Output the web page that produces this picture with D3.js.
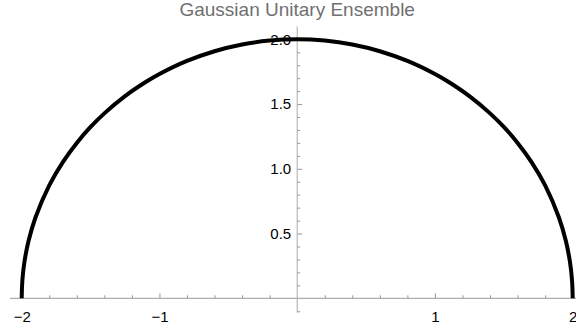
<!DOCTYPE html>
<meta charset="utf-8">
<style>
body { margin: 0; background: #fff; }
svg { display: block; font-family: "Liberation Sans", Arial, sans-serif; }
.axis text { font-size: 15px; fill: #000; }
.axis line { stroke: #999; }
.axis path { display: none; }
.curve { fill: none; stroke: #000; stroke-width: 4px; }
</style>
<svg width="576" height="326"></svg>
<script src="https://cdn.jsdelivr.net/npm/d3@7"></script>
<script>

// semicircle density
var xs = [-2, -1.995, -1.98, -1.95, -1.9, -1.8, -1.7, -1.6, -1.5, -1.4, -1.25, -1.1, -1, -0.8, -0.6, -0.4, -0.2, 0,
          0.2, 0.4, 0.6, 0.8, 1, 1.1, 1.25, 1.4, 1.5, 1.6, 1.7, 1.8, 1.9, 1.95, 1.98, 1.995, 2]
var ys = [0, 0.141, 0.282, 0.444, 0.624, 0.872, 1.054, 1.2, 1.323, 1.428, 1.561, 1.67, 1.732, 1.833, 1.908, 1.96, 1.99, 2,
          1.99, 1.96, 1.908, 1.833, 1.732, 1.67, 1.561, 1.428, 1.323, 1.2, 1.054, 0.872, 0.624, 0.444, 0.282, 0.141, 0]

var xMajor = [-2, -1, 1, 2]
var xMinor = [-1.8, -1.6, -1.4, -1.2, -0.8, -0.6, -0.4, -0.2, 0.2, 0.4, 0.6, 0.8, 1.2, 1.4, 1.6, 1.8]
var yMajor = [0.5, 1, 1.5, 2]
var yMinor = [-0.1, 0.1, 0.2, 0.3, 0.4, 0.6, 0.7, 0.8, 0.9, 1.1, 1.2, 1.3, 1.4, 1.6, 1.7, 1.8, 1.9]
var title = "Gaussian Unitary Ensemble"

var svg = d3.select("svg")

var x = d3.scaleLinear().domain([-2, 2]).range([21.7, 572.7])
var y = d3.scaleLinear().domain([0, 2]).range([298.3, 39.3])

// axis lines, running a bit past the data like the original
svg.append("line")
    .attr("x1", x(-2.085)).attr("x2", 576)
    .attr("y1", y(0)).attr("y2", y(0))
    .attr("stroke", "#999").attr("stroke-width", 1)
svg.append("line")
    .attr("x1", x(0)).attr("x2", x(0))
    .attr("y1", y(-0.11)).attr("y2", y(2.1))
    .attr("stroke", "#aaa").attr("stroke-width", 1)

var gx = svg.append("g").attr("class", "axis").attr("transform", "translate(0," + y(0) + ")")
gx.call(d3.axisBottom(x).tickValues(xMinor).tickSize(-3).tickFormat(""))
gx.append("g").call(d3.axisBottom(x).tickValues(xMajor).tickSize(-5).tickPadding(13).tickFormat(d3.format("d")))

var gy = svg.append("g").attr("class", "axis").attr("transform", "translate(" + x(0) + ",0)")
gy.call(d3.axisLeft(y).tickValues(yMinor).tickSize(-3).tickFormat(""))
gy.append("g").call(d3.axisLeft(y).tickValues(yMajor).tickSize(-5).tickPadding(6).tickFormat(d3.format(".1f")))

svg.selectAll(".axis text").attr("font-family", null).attr("font-size", null)

var line = d3.line()
    .x(function(d, i) { return x(xs[i]); })
    .y(function(d, i) { return y(ys[i]); })
    .curve(d3.curveCatmullRom)

svg.append("path")
    .datum(xs)
    .attr("class", "curve")
    .attr("d", line)

svg.append("text")
    .attr("x", x(0))
    .attr("y", 16)
    .attr("text-anchor", "middle")
    .attr("font-size", 19)
    .attr("fill", "#707070")
    .text(title)

</script>
